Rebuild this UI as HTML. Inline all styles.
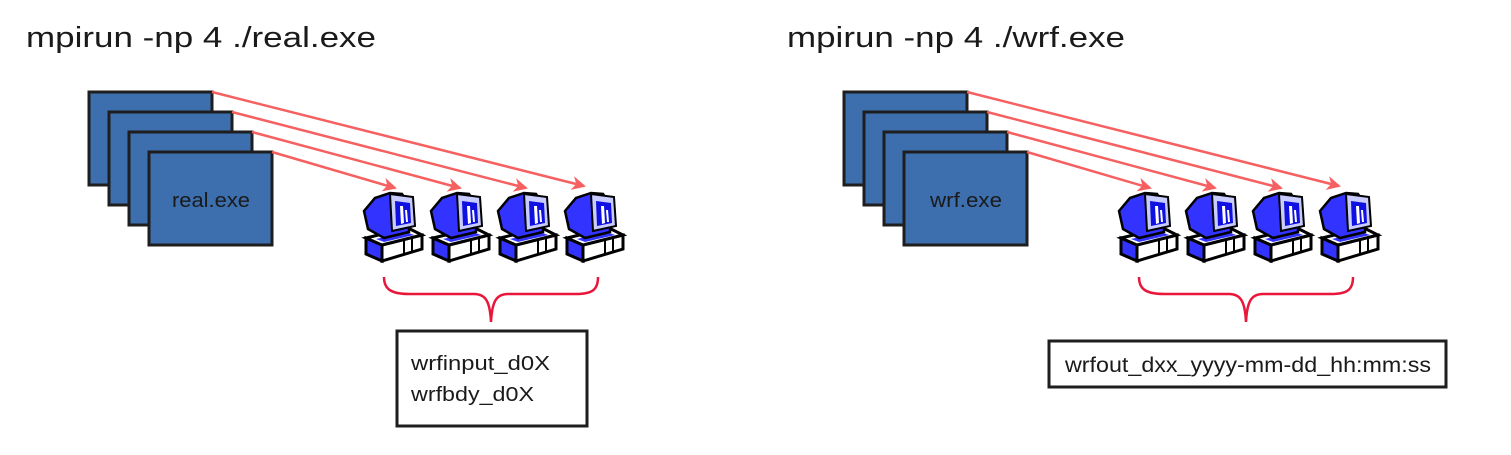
<!DOCTYPE html>
<html><head><meta charset="utf-8"><style>
html,body{margin:0;padding:0;background:#fff;}
svg{display:block;}
text{font-family:"Liberation Sans",sans-serif;fill:#1a1a1a;}
</style></head><body>
<svg width="1511" height="455" viewBox="0 0 1511 455" xmlns="http://www.w3.org/2000/svg">
<defs>
<marker id="ah" markerWidth="14" markerHeight="14" refX="12" refY="7" orient="auto" markerUnits="userSpaceOnUse">
<path d="M0,0 L14,7 L0,14 L4,7 z" fill="#f66060"/>
</marker>
<g id="pc">
<polygon points="20,54 60,44 60,58 20,70" fill="#fff" stroke="#000" stroke-width="3"/>
<line x1="42" y1="49" x2="42" y2="63" stroke="#000" stroke-width="2"/>
<line x1="50" y1="47" x2="50" y2="61" stroke="#000" stroke-width="2"/>
<polygon points="4,47 20,54 20,70 4,63" fill="#3333ff" stroke="#000" stroke-width="3"/>
<polygon points="4,47 46,37 60,44 20,54" fill="#fff" stroke="#000" stroke-width="3"/>
<polygon points="14,48 44,41 52,44 22,51" fill="#3333ff"/>
<polygon points="2,20 13,7 28,2 40,3 47,14 47,41 22,47 6,38" fill="#3333ff" stroke="#000" stroke-width="2.5"/>
<polygon points="28,3 51,6 53,35 30,40" fill="#c8ccff" stroke="#000" stroke-width="2"/>
<polygon points="33,10 48,12 49,32 34,35" fill="#1010e0"/>
<polygon points="38,15 41,15 42,32 39,33" fill="#fff"/>
<polygon points="43,19 45,19 46,31 44,31" fill="#fff"/>
</g>
</defs>

<!-- LEFT -->
<text x="26" y="47" font-size="29" textLength="350" lengthAdjust="spacingAndGlyphs">mpirun -np 4 ./real.exe</text>
<g fill="#3d6faf" stroke="#1e1e1e" stroke-width="3">
<rect x="89" y="92" width="123" height="93"/>
<rect x="109" y="112" width="123" height="93"/>
<rect x="129" y="132" width="123" height="93"/>
<rect x="149" y="152" width="123" height="93"/>
</g>
<text x="211" y="207" font-size="20" text-anchor="middle" textLength="78" lengthAdjust="spacingAndGlyphs">real.exe</text>
<g stroke="#f66060" stroke-width="2.5" fill="none" marker-end="url(#ah)">
<line x1="212" y1="92" x2="584" y2="186"/>
<line x1="232" y1="112" x2="526" y2="188"/>
<line x1="252" y1="132" x2="460" y2="188"/>
<line x1="272" y1="152" x2="395" y2="188"/>
</g>
<use href="#pc" x="362" y="191"/>
<use href="#pc" x="429" y="191"/>
<use href="#pc" x="496" y="191"/>
<use href="#pc" x="563" y="191"/>
<path d="M384,277 C384,290 392,294 410,294 L474,294 C486,294 490,302 491,322 C492,302 496,294 508,294 L576,294 C592,294 598,290 598,277" fill="none" stroke="#e8173a" stroke-width="2.5"/>
<rect x="397" y="331" width="190" height="95" fill="#fff" stroke="#1e1e1e" stroke-width="3"/>
<text x="411" y="370" font-size="20" textLength="139" lengthAdjust="spacingAndGlyphs">wrfinput_d0X</text>
<text x="411" y="401" font-size="20" textLength="123" lengthAdjust="spacingAndGlyphs">wrfbdy_d0X</text>

<!-- RIGHT -->
<text x="787" y="47" font-size="29" textLength="338" lengthAdjust="spacingAndGlyphs">mpirun -np 4 ./wrf.exe</text>
<g fill="#3d6faf" stroke="#1e1e1e" stroke-width="3">
<rect x="844" y="92" width="123" height="93"/>
<rect x="864" y="112" width="123" height="93"/>
<rect x="884" y="132" width="123" height="93"/>
<rect x="904" y="152" width="123" height="93"/>
</g>
<text x="966" y="207" font-size="20" text-anchor="middle" textLength="72" lengthAdjust="spacingAndGlyphs">wrf.exe</text>
<g stroke="#f66060" stroke-width="2.5" fill="none" marker-end="url(#ah)">
<line x1="967" y1="92" x2="1339" y2="186"/>
<line x1="987" y1="112" x2="1281" y2="188"/>
<line x1="1007" y1="132" x2="1215" y2="188"/>
<line x1="1027" y1="152" x2="1150" y2="188"/>
</g>
<use href="#pc" x="1117" y="191"/>
<use href="#pc" x="1184" y="191"/>
<use href="#pc" x="1251" y="191"/>
<use href="#pc" x="1318" y="191"/>
<path d="M1139,277 C1139,290 1147,294 1165,294 L1229,294 C1241,294 1245,302 1246,322 C1247,302 1251,294 1263,294 L1331,294 C1347,294 1353,290 1353,277" fill="none" stroke="#e8173a" stroke-width="2.5"/>
<rect x="1049" y="341" width="397" height="46" fill="#fff" stroke="#1e1e1e" stroke-width="3"/>
<text x="1065" y="372" font-size="21" textLength="366" lengthAdjust="spacingAndGlyphs">wrfout_dxx_yyyy-mm-dd_hh:mm:ss</text>
</svg>
</body></html>
